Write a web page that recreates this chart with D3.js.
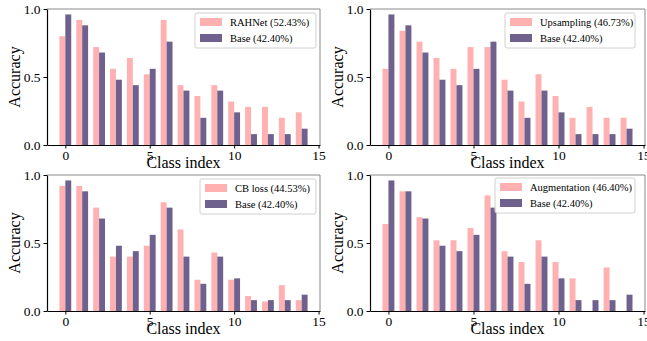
<!DOCTYPE html>
<html>
<head>
<meta charset="utf-8">
<script src="https://cdn.jsdelivr.net/npm/d3@7"></script>
<style>
  body { margin: 0; background: #fff; }
  svg text { font-family: "Liberation Serif", "DejaVu Serif", serif !important; }
</style>
</head>
<body>
<script>
'use strict';

// class indices 0..14
let classes = d3.range(15);
let base = [0.96, 0.88, 0.68, 0.48, 0.44, 0.56, 0.76, 0.40, 0.20, 0.40, 0.24, 0.08, 0.08, 0.08, 0.12];
let rahnet = [0.80, 0.92, 0.72, 0.56, 0.64, 0.52, 0.92, 0.44, 0.36, 0.44, 0.32, 0.28, 0.28, 0.20, 0.24];
let upsampling = [0.56, 0.84, 0.76, 0.64, 0.56, 0.72, 0.72, 0.48, 0.32, 0.52, 0.36, 0.20, 0.28, 0.20, 0.20];
let cbLoss = [0.92, 0.92, 0.76, 0.40, 0.40, 0.48, 0.80, 0.60, 0.23, 0.43, 0.23, 0.11, 0.07, 0.19, 0.08];
let augmentation = [0.64, 0.88, 0.69, 0.52, 0.52, 0.61, 0.85, 0.44, 0.36, 0.52, 0.36, 0.24, 0, 0.32, 0];

let methodNames = ['RAHNet (52.43%)', 'Upsampling (46.73%)', 'CB loss (44.53%)', 'Augmentation (46.40%)'];
let baseName = 'Base (42.40%)';
let xTicks = [0, 5, 10, 15];
let yTicks = [0, 0.5, 1.0];

let w = 647, h = 341;
let pink = '#ffb1b1', purple = '#6e618e';
let barW = 0.35;
let serif = '"Liberation Serif", "DejaVu Serif", serif';

let svg = d3.select('body')
    .append('svg')
    .attr('width', w)
    .attr('height', h);

// panel boxes in pixels + legend box
let panels = [
    {l: 47, r: 320, t: 9, b: 145, vals: rahnet, name: methodNames[0], leg: {x: 195, y: 13, w: 121}},
    {l: 370, r: 645, t: 9, b: 145, vals: upsampling, name: methodNames[1], leg: {x: 505, y: 13, w: 130}},
    {l: 47, r: 320, t: 175, b: 311, vals: cbLoss, name: methodNames[2], leg: {x: 200, y: 179, w: 116}},
    {l: 370, r: 645, t: 175, b: 311, vals: augmentation, name: methodNames[3], leg: {x: 495, y: 178, w: 140}}
];

panels.forEach(p => {
    let x = d3.scaleLinear().domain([-1.085, 15.085]).range([p.l, p.r]);
    let y = d3.scaleLinear().domain([0, 1.0]).range([p.b, p.t]);
    let g = svg.append('g');

    g.selectAll('rect.m')
        .data(p.vals)
        .enter()
        .append('rect')
        .attr('class', 'm')
        .attr('x', (d, i) => x(classes[i] - barW))
        .attr('y', d => y(d))
        .attr('width', x(barW) - x(0))
        .attr('height', d => y(0) - y(d))
        .attr('fill', pink);

    g.selectAll('rect.b')
        .data(base)
        .enter()
        .append('rect')
        .attr('class', 'b')
        .attr('x', (d, i) => x(classes[i]))
        .attr('y', d => y(d))
        .attr('width', x(barW) - x(0))
        .attr('height', d => y(0) - y(d))
        .attr('fill', purple);

    // frame: top/right gray, left/bottom black
    g.append('line').attr('x1', p.l).attr('x2', p.r).attr('y1', p.t).attr('y2', p.t)
        .attr('stroke', '#8a8a8a').attr('stroke-width', 1);
    g.append('line').attr('x1', p.r).attr('x2', p.r).attr('y1', p.t).attr('y2', p.b)
        .attr('stroke', '#8a8a8a').attr('stroke-width', 1);

    let xAxis = g.append('g')
        .attr('transform', 'translate(0,' + p.b + ')')
        .call(d3.axisBottom(x).tickValues(xTicks).tickSize(3.5).tickSizeOuter(0).tickPadding(1.5).tickFormat(d3.format('d')));
    let yAxis = g.append('g')
        .attr('transform', 'translate(' + p.l + ',0)')
        .call(d3.axisLeft(y).tickValues(yTicks).tickSize(3.5).tickSizeOuter(0).tickPadding(3).tickFormat(d3.format('.1f')));
    [xAxis, yAxis].forEach(a => {
        a.attr('font-family', serif).attr('font-size', 13.5);
        a.select('.domain').attr('stroke', '#000').attr('stroke-width', 1.2);
        a.selectAll('.tick line').attr('stroke', '#000');
        a.selectAll('text').attr('fill', '#000');
    });

    g.append('text')
        .text('Class index')
        .attr('x', (p.l + p.r) / 2)
        .attr('y', p.b + 23)
        .attr('text-anchor', 'middle')
        .attr('font-family', serif)
        .attr('font-size', '16px');

    g.append('text')
        .text('Accuracy')
        .attr('transform', 'translate(' + (p.l - 27) + ',' + ((p.t + p.b) / 2) + ') rotate(-90)')
        .attr('text-anchor', 'middle')
        .attr('font-family', serif)
        .attr('font-size', '16px');

    // legend
    let lg = g.append('g').attr('transform', 'translate(' + p.leg.x + ',' + p.leg.y + ')');
    lg.append('rect')
        .attr('width', p.leg.w).attr('height', 35).attr('rx', 2)
        .attr('fill', 'rgba(255,255,255,0.85)').attr('stroke', '#d0d0d0');
    let items = [{c: pink, t: p.name}, {c: purple, t: baseName}];
    lg.selectAll('rect.k')
        .data(items)
        .enter()
        .append('rect')
        .attr('class', 'k')
        .attr('x', 5).attr('y', (d, i) => 5 + i * 16)
        .attr('width', 22).attr('height', 8)
        .attr('fill', d => d.c);
    lg.selectAll('text')
        .data(items)
        .enter()
        .append('text')
        .text(d => d.t)
        .attr('x', 35).attr('y', (d, i) => 13 + i * 16)
        .attr('font-family', serif)
        .attr('font-size', '10.5px');
});
</script>
</body>
</html>
